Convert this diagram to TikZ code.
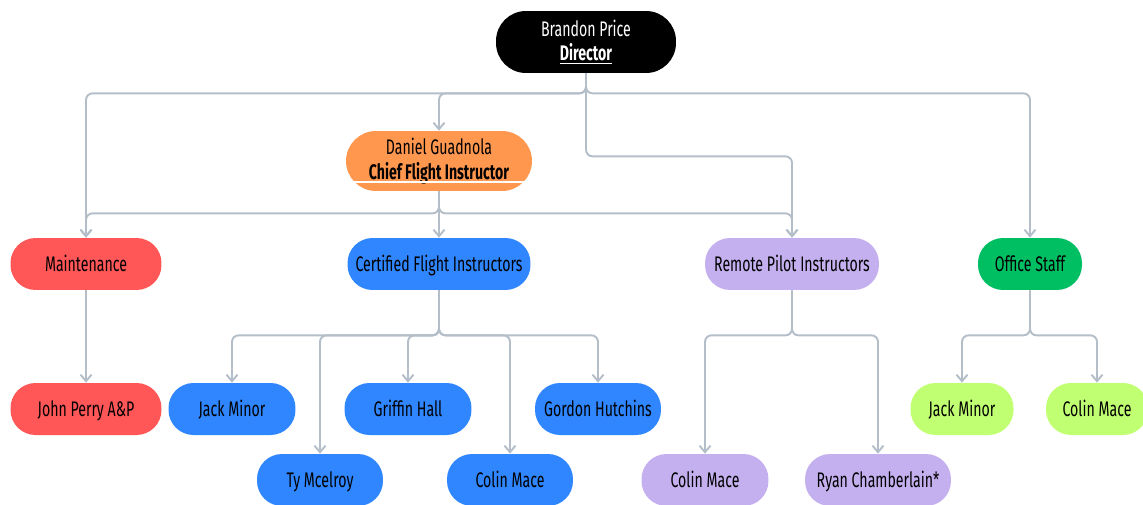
\documentclass[tikz,border=0pt]{standalone}
\usepackage{fontspec}
\setmainfont{Fira Sans}[FakeStretch=0.67]
\usetikzlibrary{arrows.meta}
\definecolor{linkgray}{HTML}{B4BEC8}
\definecolor{boxorange}{HTML}{FF974F}
\definecolor{boxred}{HTML}{FF5757}
\definecolor{boxblue}{HTML}{2F86FF}
\definecolor{boxlav}{HTML}{C4B0EE}
\definecolor{boxgreen}{HTML}{00BF63}
\definecolor{boxlime}{HTML}{C1FF72}
\tikzset{
  pill/.style={rounded corners=0.5cm, minimum height=1.04cm, inner sep=2pt,
    align=center, font=\fontsize{12}{13.8}\selectfont, text=black},
  pillone/.style={pill, text height=1.9ex, text depth=0.3ex},
  link/.style={linkgray, line width=1.1pt, rounded corners=0.13cm,
    -{Straight Barb[length=1.3mm,width=2.2mm]}},
}
\begin{document}
\begin{tikzpicture}[x=0.02cm,y=-0.02cm]

\useasboundingbox (0,0) rectangle (1143,504);
\clip (0,0) rectangle (1143,504);

\node[pill,fill=black,text=white,minimum width=3.6cm,minimum height=1.24cm,rounded corners=0.6cm] (dir) at (586,42) {Brandon Price\\\underline{\textbf{Director}}};
\node[pill,fill=boxorange,minimum width=3.72cm,minimum height=1.2cm,rounded corners=0.6cm] (chief) at (439,161) {Daniel Guadnola\\\textbf{Chief Flight Instructor}};
\draw[white,line width=1pt] (352,182) -- (525,182);

\node[pillone,fill=boxred,minimum width=3.02cm] (mnt) at (86,264) {Maintenance};
\node[pillone,fill=boxblue,minimum width=3.66cm] (cfi) at (439,264) {Certified Flight Instructors};
\node[pillone,fill=boxlav,minimum width=3.48cm] (rem) at (792,264) {Remote Pilot Instructors};
\node[pillone,fill=boxgreen,minimum width=2.08cm] (off) at (1030,264) {Office Staff};

\node[pillone,fill=boxred,minimum width=3.02cm] (jp) at (86,409) {John Perry A\&P};
\node[pillone,fill=boxblue,minimum width=2.54cm] (cj) at (232,409) {Jack Minor};
\node[pillone,fill=boxblue,minimum width=2.52cm] (ct) at (320,480) {Ty Mcelroy};
\node[pillone,fill=boxblue,minimum width=2.54cm] (cg) at (408,409) {Griffin Hall};
\node[pillone,fill=boxblue,minimum width=2.52cm] (cc) at (510,480) {Colin Mace};
\node[pillone,fill=boxblue,minimum width=2.52cm] (ch) at (598,409) {Gordon Hutchins};
\node[pillone,fill=boxlav,minimum width=2.54cm] (rc) at (705,480) {Colin Mace};
\node[pillone,fill=boxlav,minimum width=2.92cm] (rr) at (878,480) {Ryan Chamberlain*};
\node[pillone,fill=boxlime,minimum width=2.06cm] (oj) at (962,409) {Jack Minor};
\node[pillone,fill=boxlime,minimum width=2.04cm] (oc) at (1097,409) {Colin Mace};

\draw[link] (dir.south) -- ++(0,20) -| (mnt.north);
\draw[link] (dir.south) -- ++(0,20) -| (chief.north);
\draw[link] (dir.south) -- ++(0,20) -| (off.north);
\draw[link] (dir.south) -- ++(0,83) -| (rem.north);

\draw[link] (chief.south) -- ++(0,22) -| (mnt.north);
\draw[link] (chief.south) -- (cfi.north);
\draw[link] (chief.south) -- ++(0,22) -| (rem.north);

\draw[link] (mnt.south) -- (jp.north);
\foreach \c in {cj,ct,cg,cc,ch}
  \draw[link] (cfi.south) -- ++(0,45) -| (\c.north);
\foreach \c in {rc,rr}
  \draw[link] (rem.south) -- ++(0,45) -| (\c.north);
\foreach \c in {oj,oc}
  \draw[link] (off.south) -- ++(0,45) -| (\c.north);

\end{tikzpicture}
\end{document}
